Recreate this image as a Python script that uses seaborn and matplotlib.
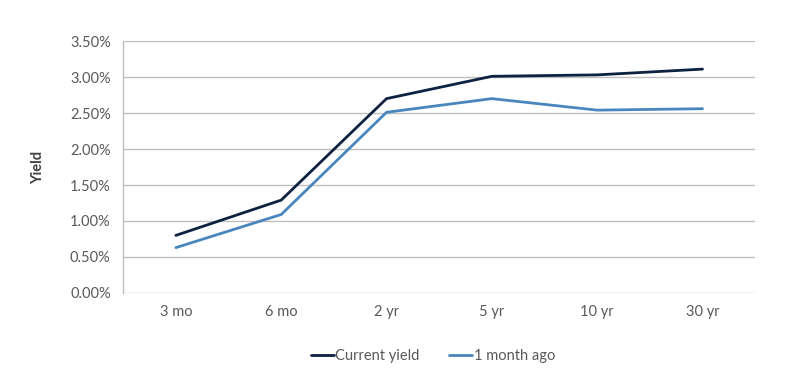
import matplotlib
matplotlib.use("Agg")
import matplotlib.pyplot as plt
import pandas as pd
import seaborn as sns
from matplotlib.ticker import PercentFormatter

MATURITIES = ["3 mo", "6 mo", "2 yr", "5 yr", "10 yr", "30 yr"]
CURRENT_YIELD = [0.80, 1.29, 2.70, 3.01, 3.03, 3.11]
MONTH_AGO_YIELD = [0.63, 1.09, 2.51, 2.70, 2.54, 2.56]
SERIES_NAMES = ["Current yield", "1 month ago"]
COLORS = ["#0D2240", "#4A86BE"]


def main() -> None:
    sns.set_theme(style="white")
    plt.rcParams["font.family"] = ["Lato", "DejaVu Sans"]

    df = pd.concat([
        pd.DataFrame({"maturity": MATURITIES, "yield": CURRENT_YIELD, "series": SERIES_NAMES[0]}),
        pd.DataFrame({"maturity": MATURITIES, "yield": MONTH_AGO_YIELD, "series": SERIES_NAMES[1]}),
    ], ignore_index=True)

    fig = plt.figure(figsize=(8, 3.8), dpi=100)
    ax = fig.add_axes([0.154, 0.229, 0.79, 0.663])
    sns.lineplot(
        data=df, x="maturity", y="yield", hue="series",
        palette=dict(zip(SERIES_NAMES, COLORS)), linewidth=2, ax=ax,
    )

    ax.set_xlim(-0.5, len(MATURITIES) - 0.5)
    ax.set_ylim(0, 3.5)
    ax.set_yticks([i * 0.5 for i in range(8)])
    ax.yaxis.set_major_formatter(PercentFormatter(decimals=2))
    ax.grid(axis="y", color="#BFBFBF", linewidth=1)
    ax.set_axisbelow(True)
    for side in ["top", "right", "bottom"]:
        ax.spines[side].set_visible(False)
    ax.spines["left"].set_color("#BFBFBF")
    ax.spines["left"].set_linewidth(1)
    ax.tick_params(axis="both", length=0, labelsize=10.5, colors="#595959", pad=9)
    ax.set_xlabel("")
    ax.set_ylabel("Yield", fontsize=10.5, fontweight="bold", color="#404040", labelpad=18)

    handles, labels = ax.get_legend_handles_labels()
    ax.legend(
        handles, labels, loc="upper center", bbox_to_anchor=(0.49, -0.17),
        ncol=2, frameon=False, fontsize=10.5, handlelength=1.6, handletextpad=0.1,
        columnspacing=2.0, labelcolor="#595959",
    )

    fig.savefig("out.png", dpi=100)
    plt.close(fig)


if __name__ == "__main__":
    main()
